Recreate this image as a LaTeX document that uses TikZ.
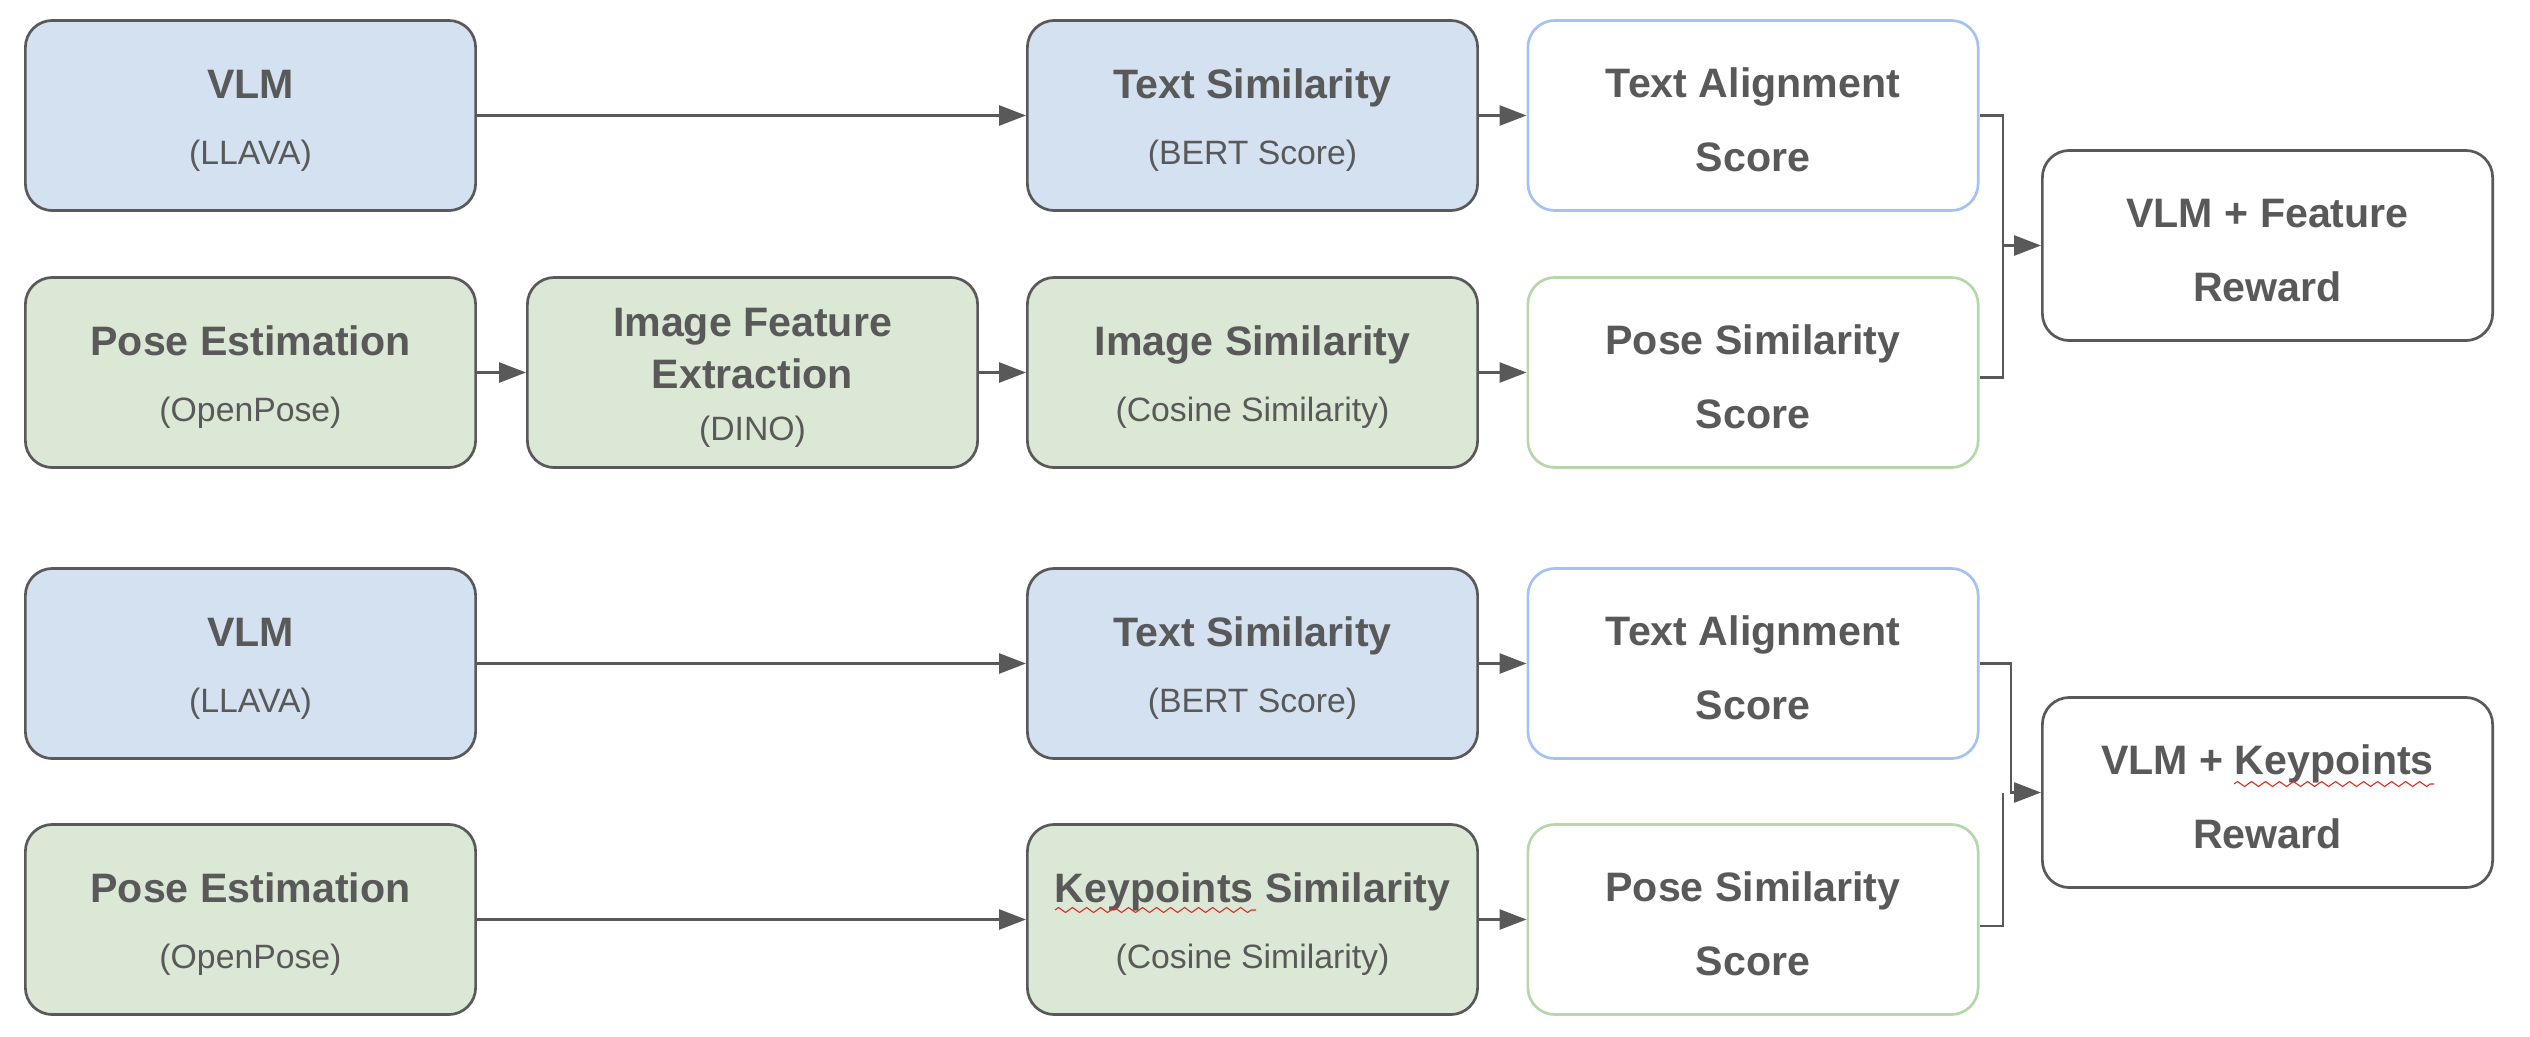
\documentclass[tikz,border=0pt]{standalone}
\usepackage{fontspec}
\setmainfont{Liberation Sans}
\usetikzlibrary{arrows.meta,decorations.pathmorphing}
\definecolor{tx}{HTML}{595959}
\definecolor{bd}{HTML}{595959}
\definecolor{bfill}{HTML}{D4E1F1}
\definecolor{gfill}{HTML}{DCE8D6}
\definecolor{bline}{HTML}{A4C2F4}
\definecolor{gline}{HTML}{B6D7A8}
\definecolor{squig}{HTML}{D93025}
\newcommand\subt[1]{{\fontsize{9.6}{18.6}\selectfont\mdseries #1}}
\newcommand\st{\rule{0pt}{11pt}}
\tikzset{
  box/.style={draw=bd, line width=0.027cm, rounded corners=0.27cm,
    minimum width=4.5cm, minimum height=1.9cm, align=center, text=tx,
    font=\fontsize{11.7}{18.6}\selectfont\bfseries, inner sep=0pt},
  titles/.style={font=\fontsize{11.7}{20.9}\selectfont\bfseries},
  bluebox/.style={box, fill=bfill},
  greenbox/.style={box, fill=gfill},
  scoreblue/.style={box, titles, draw=bline, fill=white},
  scoregreen/.style={box, titles, draw=gline, fill=white},
  rewardbox/.style={box, titles, fill=white},
  conn/.style={draw=bd, line width=0.027cm, -{Triangle[length=0.27cm,width=0.2cm]}},
  plain/.style={draw=bd, line width=0.027cm},
  spell/.style={draw=squig, line width=0.011cm, decorate,
    decoration={zigzag, segment length=0.14cm, amplitude=0.025cm}}
}
\begin{document}
\begin{tikzpicture}[x=0.01cm, y=-0.01cm]
\useasboundingbox (0,0) rectangle (2530,1036);
% ---- top section
\node[bluebox] (vlm1) at (250.5,115.5) {\st VLM\\\subt{(LLAVA)}};
\node[greenbox] (pe1) at (250.5,372.5) {\st Pose Estimation\\\subt{(OpenPose)}};
\node[greenbox, font=\fontsize{11.7}{14.8}\selectfont\bfseries] (ife) at (752.5,372.5)
  {\st Image Feature\\Extraction\\{\fontsize{9.6}{14.8}\selectfont\mdseries (DINO)}};
\node[bluebox] (ts1) at (1252.5,115.5) {\st Text Similarity\\\subt{(BERT Score)}};
\node[greenbox] (is1) at (1252.5,372.5) {\st Image Similarity\\\subt{(Cosine Similarity)}};
\node[scoreblue] (ta1) at (1753,115.5) {\st Text Alignment\\Score};
\node[scoregreen] (ps1) at (1753,372.5) {\st Pose Similarity\\Score};
\node[rewardbox] (rw1) at (2267.5,245.5) {\st VLM + Feature\\Reward};
\coordinate (j1) at (2003,245.5);
\draw[conn] (vlm1) -- (ts1);
\draw[conn] (pe1) -- (ife);
\draw[conn] (ife) -- (is1);
\draw[conn] (ts1) -- (ta1);
\draw[conn] (is1) -- (ps1);
\draw[plain] (ta1.east) -| (j1);
\draw[plain] ([yshift=-0.05cm]ps1.east) -| (j1);
\draw[conn] (j1) -- (rw1.west);
% ---- bottom section
\node[bluebox] (vlm2) at (250.5,663.5) {\st VLM\\\subt{(LLAVA)}};
\node[greenbox] (pe2) at (250.5,919.5) {\st Pose Estimation\\\subt{(OpenPose)}};
\node[bluebox] (ts2) at (1252.5,663.5) {\st Text Similarity\\\subt{(BERT Score)}};
\node[greenbox] (ks) at (1252.5,919.5) {\st Keypoints Similarity\\\subt{(Cosine Similarity)}};
\node[scoreblue] (ta2) at (1753,663.5) {\st Text Alignment\\Score};
\node[scoregreen] (ps2) at (1753,919.5) {\st Pose Similarity\\Score};
\node[rewardbox] (rw2) at (2267.5,792.5) {\st VLM + Keypoints\\Reward};
\coordinate (k2) at (2011,792.5);
\coordinate (k2b) at (2003,792.5);
\draw[conn] (vlm2) -- (ts2);
\draw[conn] (pe2) -- (ks);
\draw[conn] (ts2) -- (ta2);
\draw[conn] (ks) -- (ps2);
\draw[conn] (ta2.east) -| (k2) -- (rw2.west);
\draw[plain] ([yshift=-0.065cm]ps2.east) -| (k2b);
% spell-check squiggles
\draw[spell] (1055,910) -- (1256,910);
\draw[spell] (2234,784) -- (2434,784);
\end{tikzpicture}
\end{document}
